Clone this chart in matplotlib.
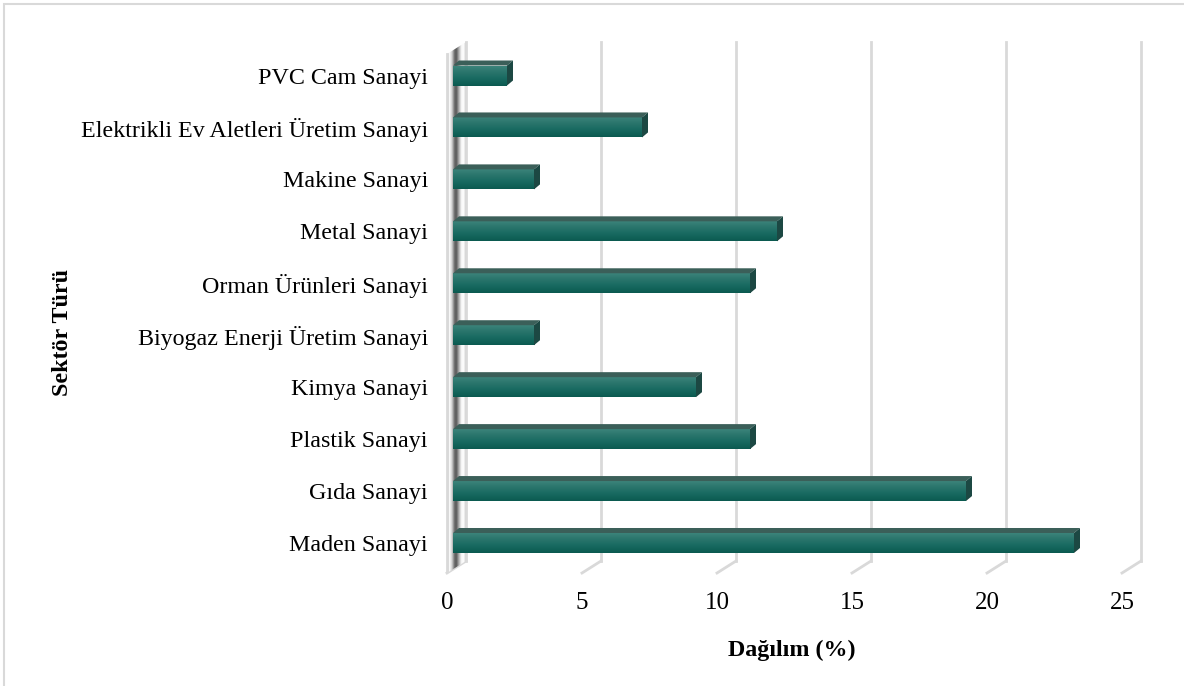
import numpy as np
import matplotlib
matplotlib.use("Agg")
import matplotlib.pyplot as plt
from matplotlib.patches import Polygon, Rectangle
from matplotlib.colors import LinearSegmentedColormap

plt.rcParams['font.family'] = ['Liberation Serif', 'DejaVu Serif']

# sector shares, bottom to top
sectors = ['Maden Sanayi', 'Gıda Sanayi', 'Plastik Sanayi', 'Kimya Sanayi',
           'Biyogaz Enerji Üretim Sanayi', 'Orman Ürünleri Sanayi', 'Metal Sanayi',
           'Makine Sanayi', 'Elektrikli Ev Aletleri Üretim Sanayi', 'PVC Cam Sanayi']
shares = [23, 19, 11, 9, 3, 11, 12, 3, 7, 2]
xticks = [0, 5, 10, 15, 20, 25]

W, H = 1184, 686
fig = plt.figure(figsize=(W / 100, H / 100), dpi=100)

# plot area in pixels (front floor at y=573, back top at y=42)
px_unit = 27.0
x_lo, x_hi = -0.3, 26.2
ax_left = 447 + x_lo * px_unit
ax_w = (x_hi - x_lo) * px_unit
y_unit = 51.94
y_lo = -(573 - 543) / y_unit
y_hi = 9 + (75.5 - 42) / y_unit
ax = fig.add_axes([ax_left / W, (H - 573) / H, ax_w / W, (573 - 42) / H])
ax.set_xlim(x_lo, x_hi)
ax.set_ylim(y_lo, y_hi)
for s in ax.spines.values():
    s.set_visible(False)

# depth of the back wall and of the bars (data units)
dx, dy = 19 / px_unit, 12 / y_unit
bx, bdx, bdy = 6 / px_unit, 6 / px_unit, 5 / y_unit
h = 20 / y_unit
grid_c = '#d9d9d9'

# gridlines on the back plane plus floor diagonals
for v in xticks:
    ax.plot([v + dx, v + dx], [y_lo + dy, y_hi], color=grid_c, lw=2, zorder=1, clip_on=False)
    ax.plot([v, v + dx], [y_lo, y_lo + dy], color=grid_c, lw=2, zorder=1, clip_on=False)

# left wall with its shadow
wall = Polygon([(0, y_lo), (dx, y_lo + dy), (dx, y_hi), (0, y_hi - dy)],
               closed=True, facecolor='none', edgecolor='none')
ax.add_patch(wall)
wall_cmap = LinearSegmentedColormap.from_list('wall', [
    (0.0, '#d0d0d0'), (0.12, '#ffffff'), (0.26, '#d0d0d0'), (0.40, '#6a6a6a'),
    (0.50, '#5a5a5a'), (0.62, '#a8a8a8'), (0.76, '#f6f6f6'), (0.88, '#ffffff'), (1.0, '#d0d0d0')])
prof = np.linspace(0, 1, 64).reshape(1, -1)
im = ax.imshow(prof, cmap=wall_cmap, extent=(0, dx, y_lo, y_hi), aspect='auto',
               zorder=1.5, interpolation='bilinear')
im.set_clip_path(wall)
ax.plot([0, 0], [y_lo, y_hi - dy], color=grid_c, lw=2, zorder=1.6)

# bars: gradient front face, top face and side face
front_cmap = LinearSegmentedColormap.from_list('front', ['#0b5a50', '#176960', '#2a756c', '#3f867d'])
grad = np.linspace(0, 1, 64).reshape(-1, 1)
ypos = np.arange(len(sectors))
bars = ax.barh(ypos, shares, height=h, left=bx, color='#17665c', zorder=3)
for b, yv, v in zip(bars, ypos, shares):
    x1 = bx + v
    gi = ax.imshow(grad, cmap=front_cmap, origin='lower', aspect='auto',
                   extent=(bx, x1, yv - h / 2, yv + h / 2), zorder=3.1,
                   interpolation='bilinear')
    gi.set_clip_path(b)
    top = Polygon([(bx, yv + h / 2), (x1, yv + h / 2), (x1 + bdx, yv + h / 2 + bdy),
                   (bx + bdx, yv + h / 2 + bdy)], closed=True, facecolor='#3b5f59',
                  edgecolor='none', zorder=3.2)
    side = Polygon([(x1, yv - h / 2), (x1 + bdx, yv - h / 2 + bdy), (x1 + bdx, yv + h / 2 + bdy),
                    (x1, yv + h / 2)], closed=True, facecolor='#1c4843',
                   edgecolor='none', zorder=3.2)
    ax.add_patch(top)
    ax.add_patch(side)

ax.set_xticks(xticks)
ax.set_xticklabels([str(t) for t in xticks], fontsize=18)
ax.set_yticks(ypos)
ax.set_yticklabels(sectors, fontsize=17.3)
ax.tick_params(axis='both', length=0)
ax.tick_params(axis='x', pad=14)
ax.tick_params(axis='y', pad=8)

fig.text(792 / W, 1 - 650 / H, 'Dağılım (%)', fontsize=17.3, fontweight='bold',
         ha='center', va='center')
fig.text(62 / W, 1 - 333 / H, 'Sektör Türü', fontsize=17.3, fontweight='bold',
         ha='center', va='center', rotation=90)

# chart border
fig.add_artist(Rectangle((3.5 / W, -0.01), 1.01, 1 - 3.5 / H + 0.01, transform=fig.transFigure,
                         facecolor='none', edgecolor='#d9d9d9', lw=1.5))

fig.savefig('out.png', dpi=100)
